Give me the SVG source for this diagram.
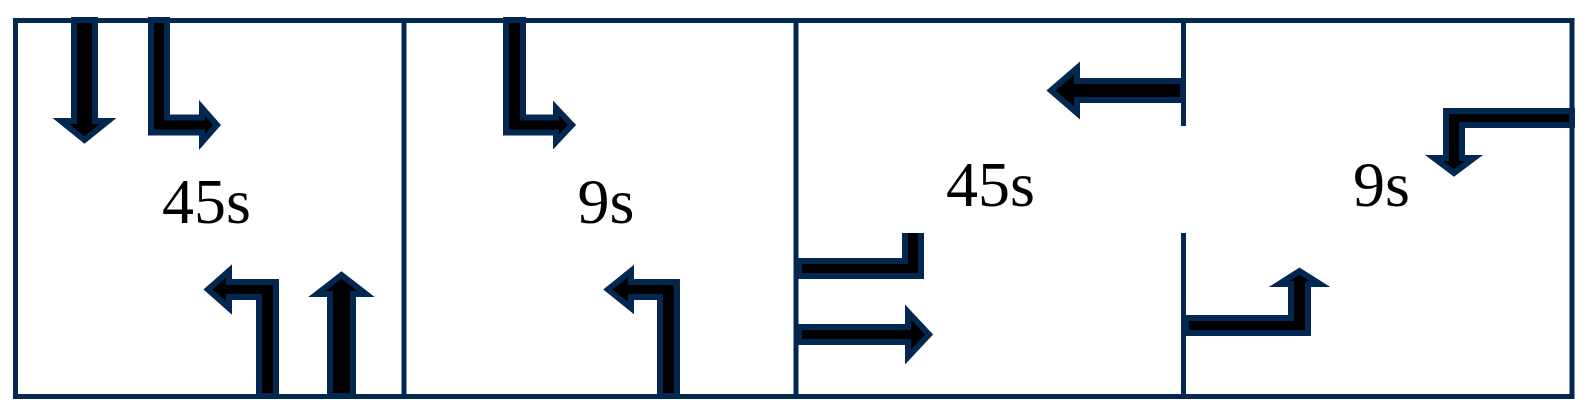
<svg xmlns="http://www.w3.org/2000/svg" width="1587" height="410" viewBox="0 0 1587 410">
<style>
.arr{fill:#000;stroke:#022852;stroke-width:6;stroke-linejoin:miter;stroke-miterlimit:10}
.ln{stroke:#022852;stroke-width:5;fill:none}
.t{font-family:"Liberation Serif","Times New Roman",serif;font-size:64px;fill:#000;text-anchor:middle}
</style>
<defs>
<clipPath id="clip3"><rect x="780" y="233" width="200" height="100"/></clipPath>
</defs>
<rect width="1587" height="410" fill="#fff"/>
<g id="connectors">
<polygon id="p1-down" class="arr" points="74,20 95,20 95,121 108,121 84.5,140 61,121 74,121"/>
<polygon id="p1-right" class="arr" points="151,20 167,20 167,117.5 202,117.5 202,108 217,125 202,142 202,132.5 151,132.5"/>
<polygon id="p1-left" class="arr" points="259,396 259,297 229,297 229,308 208,289.5 229,271 229,282 276,282 276,396"/>
<polygon id="p1-up" class="arr" points="330,396 330,294 317,294 341.5,275 366,294 353,294 353,396"/>
<polygon id="p2-right" class="arr" points="506,20 523,20 523,117.5 556,117.5 556,108 572,125 556,142 556,132.5 506,132.5"/>
<polygon id="p2-left" class="arr" points="660,396 660,297 631,297 631,308 608,289.5 631,271 631,282 677,282 677,396"/>
<polygon id="p3-left" class="arr" points="1183,81 1077,81 1077,68 1051,90.5 1077,113 1077,100 1183,100"/>
<polygon id="p3-up" class="arr" clip-path="url(#clip3)" points="799,261 905,261 905,200 921,200 921,276 799,276"/>
<polygon id="p3-right" class="arr" points="799,327 908,327 908,312 929,334.5 908,357 908,342 799,342"/>
<polygon id="p4-down" class="arr" points="1572,111 1446,111 1446,158 1434,158 1454,173 1474,158 1462,158 1462,125 1572,125"/>
<polygon id="p4-up" class="arr" points="1186,318 1291,318 1291,284 1279,284 1299.5,271 1320,284 1308,284 1308,333 1186,333"/>
</g>
<g id="frame">
<rect class="ln" x="15.5" y="20.5" width="1556.5" height="376"/>
<line class="ln" x1="404" y1="20.5" x2="404" y2="396.5"/>
<line class="ln" x1="796" y1="20.5" x2="796" y2="396.5"/>
<line class="ln" x1="1183.5" y1="20.5" x2="1183.5" y2="126"/>
<line class="ln" x1="1183.5" y1="233" x2="1183.5" y2="396.5"/>
</g>
<g id="panel1"><text class="t" x="206.5" y="223">45s</text></g>
<g id="panel2"><text class="t" x="606" y="223">9s</text></g>
<g id="panel3"><text class="t" x="990.5" y="206">45s</text></g>
<g id="panel4"><text class="t" x="1381.5" y="206">9s</text></g>
</svg>
